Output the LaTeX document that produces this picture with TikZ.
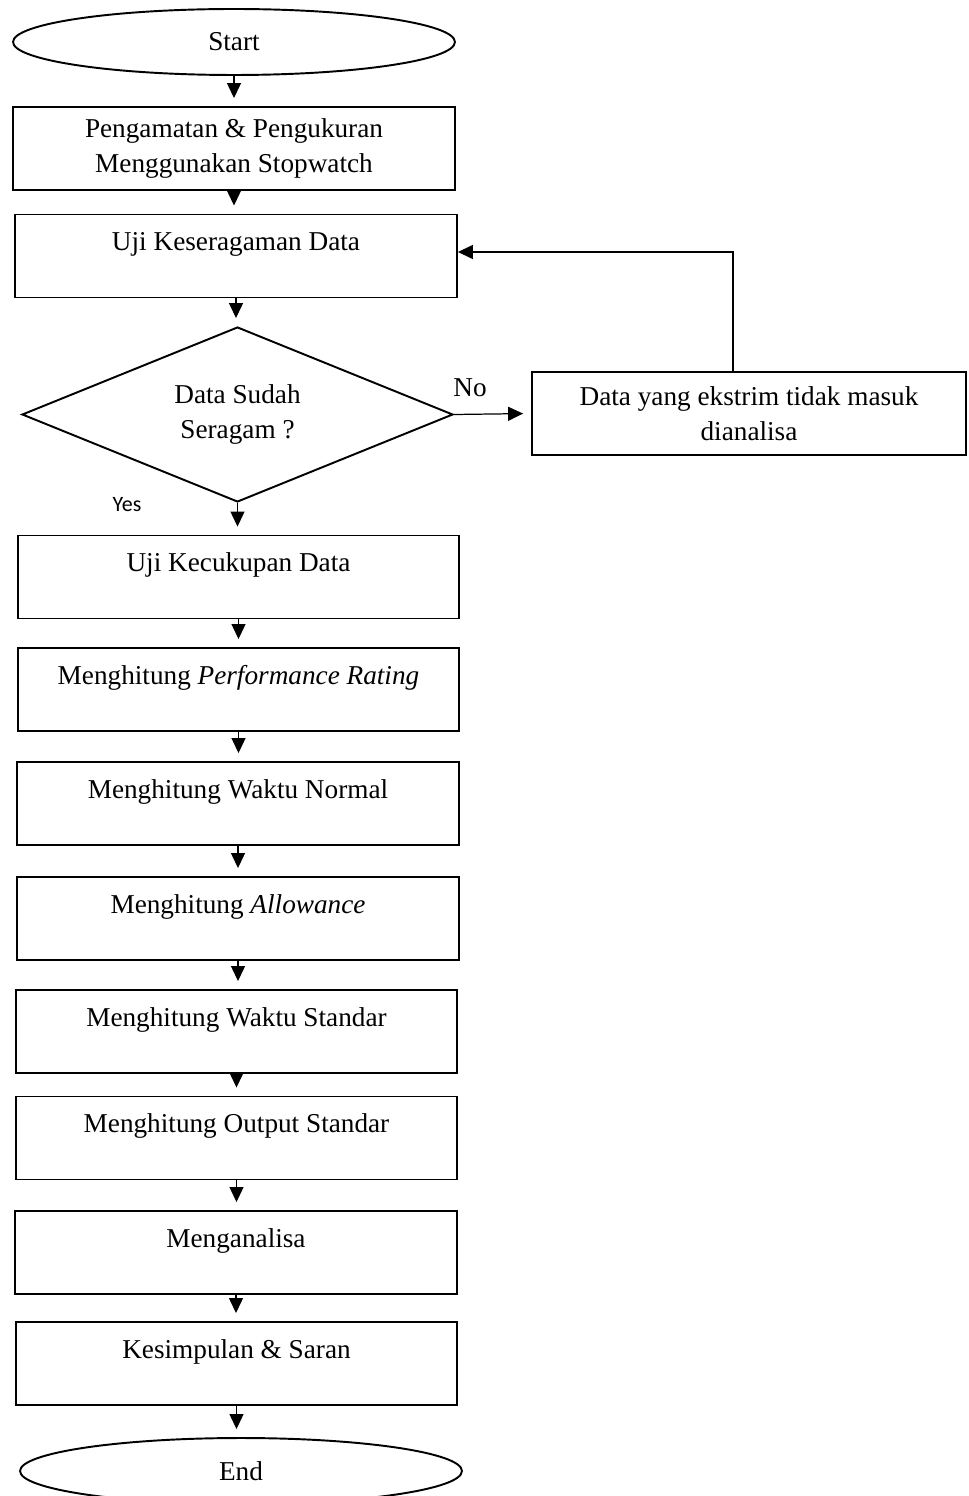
\documentclass[tikz,border=0pt]{standalone}
\usepackage{fontspec}
\setmainfont{Liberation Serif}
\newfontfamily\yesfont{Carlito}
\usetikzlibrary{shapes.geometric,arrows.meta}

\begin{document}
\begin{tikzpicture}[x=0.02cm, y=-0.02cm,
	every node/.style={font=\fontsize{15.5}{20}\selectfont},
	box/.style={draw, line width=1.1pt, minimum width=8.84cm, minimum height=1.66cm, align=center, inner sep=0pt},
	term/.style={draw, ellipse, line width=1.1pt, minimum width=8.84cm, minimum height=1.32cm, inner sep=0pt},
	decide/.style={draw, diamond, aspect=3, line width=1.1pt, minimum width=8.62cm, minimum height=3.5cm, align=center, inner sep=0pt},
	arr/.style={-{Triangle[length=0.3cm,width=0.28cm]}, line width=0.7pt, shorten >=0.16cm}]
\useasboundingbox (0,0) rectangle (968,1496);
%definitions
\def\gap{\\[-9pt]\strut}

\node[term] (start) at (234,42) {Start};
\node[box] (peng) at (234,148.5) {Pengamatan \& Pengukuran\\Menggunakan Stopwatch};
\node[box] (uji) at (236,256) {Uji Keseragaman Data\gap};
\node[decide] (dia) at (237.5,414.5) {Data Sudah\\Seragam ?};
\node[box, minimum width=8.68cm] (ekst) at (749,413.5) {Data yang ekstrim tidak masuk\\dianalisa};
\node[box] (cukup) at (238.5,577) {Uji Kecukupan Data\gap};
\node[box] (rating) at (238.5,689.5) {Menghitung \textit{Performance Rating}\gap};
\node[box] (normal) at (238,803.5) {Menghitung Waktu Normal\gap};
\node[box] (allow) at (238,918.5) {Menghitung \textit{Allowance}\gap};
\node[box] (standar) at (236.5,1031.5) {Menghitung Waktu Standar\gap};
\node[box] (output) at (236.5,1138) {Menghitung Output Standar\gap};
\node[box] (analisa) at (236,1252.5) {Menganalisa\gap};
\node[box] (simpul) at (236.5,1363.5) {Kesimpulan \& Saran\gap};
\node[term] (end) at (241,1471) {End};

\node (no) at (470,388) {No};
\node[font=\yesfont\fontsize{12.5}{15}\selectfont] (yes) at (127,505) {Yes};

\foreach \a/\b in {start/peng, peng/uji, uji/dia, dia/cukup, cukup/rating, rating/normal,
	normal/allow, allow/standar, standar/output, output/analisa, analisa/simpul, simpul/end}
	\draw[arr] (\a.south) -- (\a.south |- \b.north);

\draw[arr] (dia.east) -- (ekst.west);
\coordinate (turn) at (733,252);
\draw[arr, shorten >=0pt] (ekst.north -| turn) -- (turn) -- (uji.east |- turn);
\end{tikzpicture}
\end{document}
